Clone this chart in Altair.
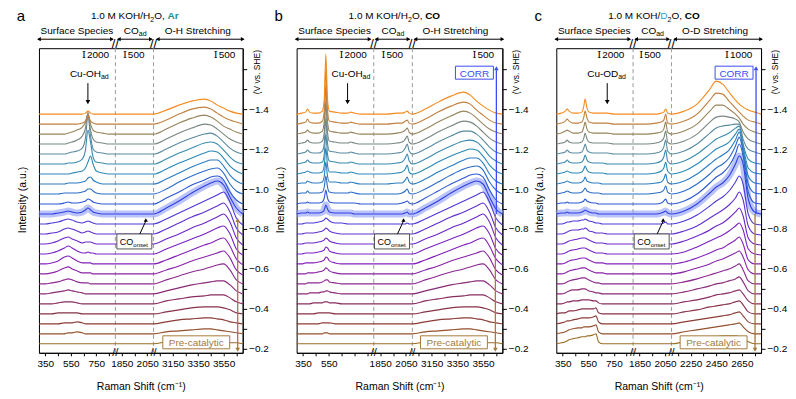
import altair as alt
import pandas as pd

FONT = "Liberation Sans"

# ---------------- data ----------------
VOLTAGES = [-0.20, -0.25, -0.30, -0.35, -0.40, -0.45, -0.50, -0.55, -0.60, -0.65, -0.70, -0.75,
            -0.80, -0.85, -0.90, -0.95, -1.00, -1.05, -1.10, -1.15, -1.20, -1.25, -1.30, -1.35]
COLORS = ["#9c6c24", "#95502c", "#8c3c36", "#873248", "#882c60", "#8a2a78", "#8c2890", "#8a22a8",
          "#8420b8", "#7a22c2", "#6e26c8", "#6030ce", "#4c38d6", "#2f3fe4", "#2a58d2", "#2a6cc8",
          "#2a7cc0", "#2a88b8", "#3a8ab0", "#5a8aa0", "#78887e", "#98845c", "#c28040", "#f58a1e"]
HIGHLIGHT_K = 13

# Panel a (Ar, H2O)
A_S1 = [300, 350, 400, 450, 500, 530, 560, 600, 640, 665, 685, 705, 725, 750, 800, 850, 900]
A_S2 = [1800, 1950, 2100]
A_S3 = [3000, 3100, 3200, 3300, 3400, 3450, 3500, 3550, 3600, 3650, 3700]
A_H1 = [
    [0, 0, 0, 0, 0, 0, 0, 0, 0, 0, 0, 0, 0, 0, 0, 0, 0],
    [0, 0, 0, 0, 0, 1, 1, 2, 1, 0, 0, 0, 0, 0, 0, 0, 0],
    [0, 0, 0, 0, 1, 1, 1, 2, 1, 0, 0, 0, 0, 0, 0, 0, 0],
    [0, 0, 0, 1, 1, 1, 1, 1, 0, 0, 0, 0, 0, 0, 0, 0, 0],
    [0, 0, 0, 1, 2, 2, 2, 1, 0, 0, 0, 0, 0, 0, 0, 0, 0],
    [0, 0, 1, 2, 3, 4, 3, 2, 1, 0, 0, 0, 0, 0, 0, 0, 0],
    [0, 0, 1, 2, 4, 5, 4, 2, 1, 1, 1, 0, 0, 0, 0, 0, 0],
    [0, 0, 1, 3, 6, 7, 5, 3, 1, 1, 1, 1, 0, 0, 0, 0, 0],
    [0, 0, 1, 3, 7, 8, 6, 3, 1, 1, 1, 1, 0, 0, 0, 0, 0],
    [0, 0, 1, 3, 6, 8, 6, 3, 1, 1, 2, 1, 1, 0, 0, 0, 0],
    [0, 0, 1, 3, 6, 7, 5, 3, 1, 2, 2, 2, 1, 0, 0, 0, 0],
    [0, 0, 1, 2, 5, 6, 5, 3, 1, 2, 3, 2, 1, 0, 0, 0, 0],
    [0, 0, 1, 2, 4, 5, 4, 2, 1, 2, 3, 2, 1, 0, 0, 0, 0],
    [0, 0, 0, 1, 2, 3, 2, 1, 2, 4, 6, 4, 2, 1, 0, 0, 0],
    [0, 0, 0, 0, 1, 2, 1, 1, 2, 3, 5, 4, 2, 1, 0, 0, 0],
    [0, 0, 0, 0, 1, 1, 1, 1, 2, 3, 5, 5, 3, 1, 0, 0, 0],
    [0, 0, 0, 0, 0, 1, 1, 1, 2, 3, 6, 7, 4, 2, 0, 0, 0],
    [0, 0, 0, 0, 0, 0, 1, 2, 3, 6, 12, 18, 10, 3, 1, 0, 0],
    [0, 0, 0, 0, 0, 1, 1, 2, 5, 14, 34, 22, 7, 2, 1, 0, 0],
    [0, 0, 0, 0, 0, 1, 2, 3, 6, 16, 38, 18, 5, 2, 1, 0, 0],
    [0, 0, 0, 0, 0, 1, 2, 4, 8, 16, 32, 14, 5, 2, 1, 0, 0],
    [0, 0, 0, 0, 0, 1, 2, 4, 7, 12, 20, 10, 4, 2, 1, 0, 0],
    [0, 0, 0, 0, 0, 0, 0, 0, 1, 3, 8, 3, 1, 0, 0, 0, 0],
    [0, 0, 0, 0, 0, 0, 0, 0, 0, 1, 3, 1, 0, 0, 0, 0, 0],
]
A_H2 = [[0, 0, 0] for _ in range(24)]
A_H3 = [
    [0, 2, 3, 4, 4, 4, 3, 2, 1, 1, 0],
    [0, 2, 3, 4, 5, 5, 4, 3, 2, 1, 0],
    [0, 2, 4, 5, 6, 6, 5, 4, 2, 1, 0],
    [0, 2, 4, 6, 7, 7, 7, 6, 4, 1, 0],
    [0, 3, 5, 7, 8, 9, 9, 9, 6, 2, 0],
    [0, 3, 6, 9, 11, 12, 13, 13, 9, 3, 0],
    [0, 4, 8, 12, 15, 17, 19, 20, 14, 4, 0],
    [0, 4, 8, 13, 17, 19, 21, 23, 16, 4, -1],
    [0, 4, 9, 14, 19, 21, 24, 26, 18, 5, -1],
    [0, 5, 10, 15, 20, 23, 26, 28, 20, 5, -1],
    [0, 5, 10, 16, 21, 24, 27, 30, 22, 6, -1],
    [0, 5, 11, 17, 22, 25, 28, 31, 22, 6, -1],
    [0, 5, 11, 17, 23, 26, 29, 32, 22, 6, -1],
    [0, 6, 13, 21, 28, 31, 33, 29, 17, 6, 0],
    [0, 6, 12, 19, 24, 27, 28, 24, 12, 4, 0],
    [0, 5, 12, 18, 23, 25, 26, 21, 10, 3, 0],
    [0, 5, 11, 17, 22, 24, 24, 18, 9, 3, 0],
    [0, 5, 11, 16, 21, 23, 22, 16, 8, 3, 0],
    [0, 5, 11, 16, 21, 22, 20, 14, 7, 2, 0],
    [0, 5, 11, 16, 20, 21, 18, 12, 6, 2, 0],
    [0, 5, 11, 16, 20, 19, 15, 10, 5, 2, 0],
    [0, 5, 11, 16, 19, 17, 13, 8, 5, 2, 0],
    [0, 4, 10, 15, 17, 15, 11, 7, 4, 2, 0],
    [0, 4, 9, 13, 15, 13, 9, 6, 3, 1, 0],
]

# Panel b (CO, H2O)
B_S1 = [300, 340, 370, 385, 400, 430, 470, 500, 515, 527, 540, 555, 600, 650, 700, 720, 750, 800, 850, 900]
B_S2 = [1800, 1900, 1980, 2020, 2045, 2060, 2075, 2100]
B_S3 = [3000, 3100, 3200, 3300, 3400, 3450, 3500, 3550, 3600, 3650, 3700]
B_H1 = [
    [0, 0, 0, 0, 0, 0, 0, 0, 0, 0, 0, 0, 0, 0, 0, 0, 0, 0, 0, 0],
    [0, 0, 0, 0, 0, 0, 0, 0, 1, 1, 1, 0, 0, 0, 0, 0, 0, 0, 0, 0],
    [0, 0, 0, 0, 0, 0, 0, 1, 1, 1, 1, 1, 0, 0, 0, 0, 0, 0, 0, 0],
    [0, 0, 0, 0, 0, 0, 1, 1, 1, 1, 1, 1, 0, 0, 0, 0, 0, 0, 0, 0],
    [0, 0, 0, 0, 0, 1, 1, 1, 2, 2, 2, 1, 1, 0, 0, 0, 0, 0, 0, 0],
    [0, 0, 0, 0, 1, 1, 1, 2, 2, 3, 3, 2, 1, 0, 0, 0, 0, 0, 0, 0],
    [0, 0, 0, 1, 1, 1, 1, 2, 3, 4, 4, 2, 1, 0, 0, 0, 0, 0, 0, 0],
    [0, 0, 0, 1, 1, 1, 2, 3, 4, 6, 5, 3, 1, 0, 0, 0, 0, 0, 0, 0],
    [0, 0, 1, 1, 1, 1, 2, 3, 4, 7, 6, 3, 1, 0, 0, 0, 0, 0, 0, 0],
    [0, 0, 1, 1, 1, 1, 2, 3, 4, 7, 6, 3, 1, 0, 0, 0, 0, 0, 0, 0],
    [0, 0, 1, 1, 1, 1, 2, 3, 4, 6, 5, 3, 1, 0, 0, 0, 0, 0, 0, 0],
    [0, 0, 1, 1, 1, 1, 2, 3, 4, 6, 5, 3, 1, 0, 0, 0, 0, 0, 0, 0],
    [0, 0, 1, 1, 1, 1, 2, 3, 4, 6, 5, 3, 1, 1, 0, 0, 0, 0, 0, 0],
    [0, 1, 1, 2, 1, 1, 1, 2, 4, 9, 5, 2, 1, 1, 1, 1, 0, 0, 0, 0],
    [0, 1, 1, 2, 1, 1, 1, 2, 6, 14, 6, 2, 1, 1, 1, 1, 1, 0, 0, 0],
    [0, 1, 1, 3, 1, 1, 1, 2, 7, 18, 7, 2, 1, 1, 1, 2, 1, 0, 0, 0],
    [0, 1, 1, 3, 2, 1, 1, 2, 8, 22, 8, 2, 2, 1, 1, 2, 1, 0, 0, 0],
    [0, 1, 2, 3, 2, 1, 1, 2, 9, 26, 9, 2, 2, 1, 1, 2, 1, 0, 0, 0],
    [0, 1, 2, 4, 2, 1, 1, 2, 10, 30, 10, 3, 2, 1, 1, 2, 1, 0, 0, 0],
    [0, 1, 2, 4, 2, 1, 1, 3, 11, 36, 11, 3, 2, 1, 1, 2, 1, 0, 0, 0],
    [0, 1, 2, 4, 2, 1, 1, 3, 12, 42, 12, 3, 2, 1, 1, 2, 1, 0, 0, 0],
    [0, 1, 2, 4, 2, 1, 1, 3, 13, 48, 13, 3, 2, 1, 1, 2, 1, 0, 0, 0],
    [0, 1, 2, 5, 2, 1, 1, 3, 14, 55, 14, 3, 2, 1, 1, 2, 1, 0, 0, 0],
    [0, 1, 2, 5, 2, 1, 1, 3, 15, 60, 15, 3, 2, 1, 1, 2, 1, 0, 0, 0],
]
B_H2 = [
    [0, 0, 0, 0, 0, 0, 0, 0], [0, 0, 0, 0, 0, 0, 0, 0], [0, 0, 0, 0, 0, 0, 0, 0],
    [0, 0, 0, 0, 0, 0, 0, 0], [0, 0, 0, 0, 0, 0, 0, 0], [0, 0, 0, 0, 0, 0, 0, 0],
    [0, 0, 0, 0, 0, 0, 0, 0], [0, 0, 0, 0, 0, 0, 0, 0], [0, 0, 0, 0, 0, 0, 0, 0],
    [0, 0, 0, 0, 0, 0, 0, 0], [0, 0, 0, 0, 0, 0, 0, 0], [0, 0, 0, 0, 0, 0, 0, 0],
    [0, 0, 0, 0, 0, 1, 0, 0],
    [0, 0, 0, 0, 1, 2, 0, 0],
    [0, 0, 0, 1, 2, 3, 1, 0],
    [0, 0, 0, 1, 3, 5, 1, 0],
    [0, 0, 1, 1, 4, 7, 2, 0],
    [0, 0, 1, 2, 5, 9, 2, 0],
    [0, 0, 1, 2, 6, 10, 3, 0],
    [0, 0, 1, 2, 6, 10, 3, 0],
    [0, 0, 1, 2, 5, 8, 2, 0],
    [0, 0, 1, 2, 4, 6, 2, 0],
    [0, 0, 1, 1, 3, 4, 1, 0],
    [0, 0, 1, 1, 2, 3, 1, 0],
]
B_H3 = [
    [0, 2, 3, 4, 4, 4, 3, 2, 1, 1, 0],
    [0, 2, 3, 4, 5, 5, 4, 3, 2, 1, 0],
    [0, 2, 4, 5, 6, 6, 5, 4, 2, 1, 0],
    [0, 2, 4, 6, 7, 7, 7, 6, 4, 1, 0],
    [0, 3, 5, 7, 8, 9, 9, 9, 6, 2, 0],
    [0, 3, 6, 9, 11, 12, 13, 13, 9, 3, 0],
    [0, 4, 8, 12, 15, 17, 19, 20, 14, 4, 0],
    [0, 4, 8, 13, 17, 19, 21, 23, 16, 4, -1],
    [0, 4, 9, 14, 19, 21, 24, 26, 18, 5, -1],
    [0, 5, 10, 15, 20, 23, 26, 28, 20, 5, -1],
    [0, 5, 10, 16, 21, 24, 27, 30, 22, 6, -1],
    [0, 5, 11, 17, 22, 25, 28, 31, 22, 6, -1],
    [0, 5, 11, 17, 23, 26, 29, 32, 22, 6, -1],
    [0, 6, 13, 21, 28, 31, 33, 30, 17, 5, 0],
    [0, 6, 13, 20, 26, 29, 30, 27, 14, 4, 0],
    [0, 5, 12, 19, 25, 27, 28, 24, 12, 4, 0],
    [0, 5, 12, 18, 24, 26, 26, 21, 10, 3, 0],
    [0, 5, 12, 18, 23, 25, 24, 18, 9, 3, 0],
    [0, 5, 12, 18, 23, 24, 22, 16, 8, 3, 0],
    [0, 5, 12, 18, 23, 23, 20, 14, 7, 2, 0],
    [0, 5, 12, 18, 23, 22, 18, 12, 6, 2, 0],
    [0, 5, 12, 18, 23, 21, 16, 10, 5, 2, 0],
    [0, 5, 12, 18, 22, 20, 14, 9, 4, 1, 0],
    [0, 5, 12, 18, 22, 19, 13, 8, 4, 1, 0],
]

# Panel c (CO, D2O)
C_S1 = [300, 340, 370, 385, 400, 430, 470, 500, 515, 525, 540, 555, 590, 610, 630, 660, 700, 750, 800, 850, 900]
C_S2 = [1800, 1900, 1980, 2020, 2040, 2055, 2070, 2100]
C_S3 = [2100, 2200, 2300, 2400, 2450, 2500, 2550, 2600, 2630, 2660, 2700, 2750, 2800]
C_H1 = [
    [0, 1, 2, 3, 4, 5, 6, 7, 7, 7, 8, 8, 9, 10, 2, 0, 0, 0, 0, 0, 0],
    [0, 1, 2, 3, 4, 5, 6, 6, 7, 7, 7, 7, 8, 9, 2, 0, 0, 0, 0, 0, 0],
    [0, 1, 2, 3, 3, 4, 5, 6, 6, 6, 6, 6, 7, 8, 2, 0, 0, 0, 0, 0, 0],
    [0, 1, 1, 2, 3, 3, 4, 5, 5, 5, 5, 5, 5, 6, 1, 0, 0, 0, 0, 0, 0],
    [0, 0, 1, 2, 2, 3, 3, 4, 4, 4, 4, 4, 3, 3, 1, 0, 0, 0, 0, 0, 0],
    [0, 0, 1, 2, 3, 4, 4, 5, 5, 5, 4, 3, 2, 1, 1, 0, 0, 0, 0, 0, 0],
    [0, 0, 1, 2, 3, 4, 5, 6, 6, 6, 5, 4, 2, 1, 1, 0, 0, 0, 0, 0, 0],
    [0, 0, 1, 2, 3, 4, 5, 6, 6, 6, 5, 4, 2, 1, 1, 1, 0, 0, 0, 0, 0],
    [0, 0, 1, 2, 3, 4, 5, 6, 6, 6, 5, 4, 2, 1, 1, 1, 0, 0, 0, 0, 0],
    [0, 0, 1, 2, 3, 4, 5, 6, 6, 6, 5, 4, 2, 1, 1, 1, 0, 0, 0, 0, 0],
    [0, 0, 1, 2, 3, 4, 5, 6, 6, 6, 5, 4, 2, 1, 1, 1, 0, 0, 0, 0, 0],
    [0, 0, 1, 2, 3, 4, 4, 5, 5, 6, 5, 3, 2, 1, 1, 1, 0, 0, 0, 0, 0],
    [0, 0, 1, 2, 2, 3, 3, 4, 4, 5, 4, 3, 2, 1, 1, 0, 0, 0, 0, 0, 0],
    [0, 1, 1, 2, 1, 1, 1, 2, 3, 4, 3, 2, 1, 1, 0, 0, 0, 0, 0, 0, 0],
    [0, 1, 1, 2, 1, 1, 1, 2, 3, 5, 3, 2, 1, 1, 0, 0, 0, 0, 0, 0, 0],
    [0, 1, 2, 3, 2, 1, 1, 2, 4, 6, 3, 2, 1, 1, 1, 0, 0, 0, 0, 0, 0],
    [0, 1, 2, 3, 2, 1, 1, 2, 4, 7, 3, 2, 1, 1, 1, 0, 0, 0, 0, 0, 0],
    [0, 1, 2, 3, 2, 1, 1, 2, 5, 8, 4, 2, 1, 1, 1, 1, 0, 0, 0, 0, 0],
    [0, 1, 2, 4, 2, 1, 1, 2, 5, 9, 4, 2, 1, 1, 1, 1, 0, 0, 0, 0, 0],
    [0, 1, 2, 4, 2, 1, 1, 2, 6, 10, 4, 2, 1, 1, 1, 1, 1, 0, 0, 0, 0],
    [0, 1, 2, 4, 2, 1, 1, 2, 6, 11, 5, 2, 1, 1, 1, 1, 1, 0, 0, 0, 0],
    [0, 1, 3, 4, 3, 1, 1, 2, 7, 12, 5, 2, 1, 1, 1, 1, 1, 0, 0, 0, 0],
    [0, 1, 3, 5, 3, 1, 1, 2, 7, 13, 6, 2, 1, 1, 1, 1, 1, 0, 0, 0, 0],
    [0, 1, 3, 5, 3, 1, 1, 2, 8, 15, 6, 2, 1, 1, 1, 1, 1, 0, 0, 0, 0],
]
C_H2 = [
    [0, 0, 0, 0, 0, 0, 0, 0], [0, 0, 0, 0, 0, 0, 0, 0], [0, 0, 0, 0, 0, 0, 0, 0],
    [0, 0, 0, 0, 0, 0, 0, 0], [0, 0, 0, 0, 0, 0, 0, 0], [0, 0, 0, 0, 0, 0, 0, 0],
    [0, 0, 0, 0, 0, 0, 0, 0], [0, 0, 0, 0, 0, 0, 0, 0], [0, 0, 0, 0, 0, 0, 0, 0],
    [0, 0, 0, 0, 0, 0, 0, 0], [0, 0, 0, 0, 0, 0, 0, 0], [0, 0, 0, 0, 0, 0, 0, 0],
    [0, 0, 0, 0, 1, 2, 0, 0],
    [0, 0, 0, 1, 2, 3, 1, 0],
    [0, 0, 0, 1, 3, 5, 1, 0],
    [0, 0, 1, 2, 4, 8, 2, 0],
    [0, 0, 1, 2, 5, 10, 2, 0],
    [0, 0, 1, 3, 6, 12, 3, 0],
    [0, 0, 1, 3, 7, 14, 3, 0],
    [0, 0, 1, 3, 7, 14, 3, 0],
    [0, 0, 1, 3, 6, 13, 2, 0],
    [0, 0, 1, 2, 5, 12, 2, 0],
    [0, 0, 1, 2, 4, 10, 1, 0],
    [0, 0, 0, 1, 2, 5, 1, 0],
]
C_H3 = [
    [0, 2, 4, 6, 7, 8, 8, 8, 7, 5, 2, 0, 0],
    [0, 2, 4, 6, 7, 8, 9, 10, 11, 7, 2, 0, 0],
    [0, 2, 4, 6, 7, 8, 9, 11, 12, 8, 2, 0, 0],
    [0, 2, 4, 7, 8, 9, 10, 12, 13, 9, 2, 0, 0],
    [0, 2, 4, 7, 9, 10, 11, 13, 14, 10, 3, 0, 0],
    [0, 2, 5, 8, 10, 11, 13, 15, 17, 12, 3, 0, 0],
    [0, 2, 5, 9, 11, 13, 15, 18, 20, 14, 3, 0, 0],
    [0, 2, 6, 10, 13, 15, 18, 21, 23, 17, 4, 0, 0],
    [0, 2, 6, 11, 14, 16, 20, 24, 27, 20, 4, 0, 0],
    [0, 2, 7, 13, 16, 19, 23, 28, 31, 24, 5, 0, -1],
    [0, 3, 8, 14, 18, 21, 26, 32, 36, 28, 6, 0, -1],
    [0, 3, 8, 16, 20, 24, 29, 36, 42, 34, 8, 0, -1],
    [0, 3, 9, 18, 23, 27, 33, 42, 48, 40, 10, 0, -1],
    [0, 3, 10, 21, 27, 31, 38, 50, 58, 50, 15, 2, 0],
    [0, 3, 10, 21, 27, 31, 38, 50, 60, 48, 12, 1, 0],
    [0, 3, 10, 20, 26, 30, 36, 48, 57, 42, 10, 1, 0],
    [0, 3, 10, 20, 25, 29, 34, 44, 52, 35, 8, 1, 0],
    [0, 3, 10, 20, 25, 28, 32, 40, 45, 28, 6, 1, 0],
    [0, 3, 10, 20, 25, 28, 31, 36, 38, 20, 5, 1, 0],
    [0, 3, 10, 21, 26, 28, 29, 30, 30, 15, 5, 2, 0],
    [0, 3, 10, 22, 27, 28, 27, 25, 22, 12, 5, 2, 0],
    [0, 3, 10, 23, 29, 29, 25, 20, 16, 10, 5, 2, 0],
    [0, 3, 10, 24, 31, 30, 23, 16, 12, 8, 4, 2, 0],
    [0, 3, 10, 25, 33, 30, 22, 14, 10, 7, 4, 2, 0],
]

TICK_X = [50, 150, 250, 350, 450, 550, 650, 750, 850, 950, 1050, 1150, 1250, 1350, 1450, 1550]
SEG3_START = {"a": 3000, "b": 3000, "c": 2100}
SKIP_LABEL = {"a": [], "b": [450], "c": []}
TICK_Y = [-1.6, -1.5, -1.4, -1.3, -1.2, -1.1, -1.0, -0.9, -0.8, -0.7, -0.6, -0.5, -0.4, -0.3, -0.2]

W, H = 204, 305
BROWN = "#a57a3a"
BLUE = "#3b4cf5"
ONE = pd.DataFrame({"o": [0]})


def build(segs):
    recs = []
    for seg, shifts, rows in segs:
        for k, row in enumerate(rows):
            for s, h in zip(shifts, row):
                recs.append({"k": k, "V": VOLTAGES[k], "seg": seg, "shift": s, "h": h})
    return pd.DataFrame(recs)


def text(x, y, s, size=10, color="black", weight="normal", align="left",
         baseline="alphabetic", font=FONT, angle=0):
    return alt.Chart(ONE).mark_text(
        text=s, fontSize=size, color=color, fontWeight=weight, align=align,
        baseline=baseline, font=font, angle=angle
    ).encode(x=alt.value(x), y=alt.value(y))


def rule(x1, y1, x2, y2, color="black", width=1.0, dash=None):
    kw = dict(color=color, strokeWidth=width)
    if dash:
        kw["strokeDash"] = dash
    return alt.Chart(ONE).mark_rule(**kw).encode(
        x=alt.value(x1), y=alt.value(y1), x2=alt.value(x2), y2=alt.value(y2))


def head(x, y, shape, color="black", size=20):
    return alt.Chart(ONE).mark_point(shape=shape, filled=True, size=size, color=color,
                                     opacity=1, strokeWidth=0).encode(
        x=alt.value(x), y=alt.value(y))


def box(x1, y1, x2, y2, stroke):
    return alt.Chart(ONE).mark_rect(fill="white", stroke=stroke, strokeWidth=1).encode(
        x=alt.value(x1), y=alt.value(y1), x2=alt.value(x2), y2=alt.value(y2))


def panel(letter, df, title_parts, region3, bars, cu, corr, width=W):
    s3start = SEG3_START[letter]
    skip = SKIP_LABEL[letter]
    skip_expr = "".join([f" && datum.value != {v}" for v in skip])
    lab = (f"((datum.value - 50) % 200 == 0{skip_expr}) ? "
           f"(datum.value < 600 ? datum.value + 300 : (datum.value < 900 ? datum.value + 1200 : datum.value + {s3start - 900})) : ''")
    calc = dict(
        xd=f"datum.seg == 1 ? datum.shift - 300 : (datum.seg == 2 ? datum.shift - 1200 : datum.shift - {s3start} + 900)",
        yv="datum.V - 0.025 - datum.h * 0.005",
    )
    xenc = alt.X("xd:Q", scale=alt.Scale(domain=[0, 1600], nice=False, zero=False),
                 axis=alt.Axis(values=TICK_X, labelExpr=lab,
                               title="Raman Shift (cm\u207b\u00b9)", tickSize=3, labelPadding=3,
                               titlePadding=13, labelFontSize=10, titleFontSize=10.5,
                               titleFontWeight="normal", domainColor="black", tickColor="black",
                               labelColor="black", labelFont=FONT, titleFont=FONT, grid=False,
                               labelOverlap=False, labelFlush=False))
    yenc = alt.Y("yv:Q", scale=alt.Scale(domain=[-0.18, -1.705], nice=False, zero=False),
                 axis=alt.Axis(orient="right", values=TICK_Y,
                               labelExpr="(round(datum.value*10) % 2 == 0 && datum.value > -1.5) ? format(datum.value, '.1f') : ''",
                               title=None, tickSize=4, labelPadding=2, labelFontSize=10,
                               domainColor="black", tickColor="black", labelColor="black",
                               labelFont=FONT, grid=False, labelOverlap=False, labelFlush=False))
    base = alt.Chart(df).transform_calculate(**calc)
    halo = base.transform_filter(f"datum.k == {HIGHLIGHT_K}").mark_line(
        color="#8c9cf6", strokeWidth=7, opacity=0.6, interpolate="monotone").encode(x=xenc, y=yenc)
    lines = base.mark_line(strokeWidth=1.1, interpolate="monotone").encode(
        x=xenc, y=yenc,
        color=alt.Color("k:O", scale=alt.Scale(domain=list(range(24)), range=COLORS), legend=None),
    )
    sx = width / 1600.0
    layers = [rule(600 * sx, 0, 600 * sx, H, color="#9a9a9a", dash=[4, 3]),
              rule(900 * sx, 0, 900 * sx, H, color="#9a9a9a", dash=[4, 3]),
              halo, lines]
    # panel letter and rich title
    layers.append(text(-18, -27, letter, size=15, align="center"))
    x0 = 52
    for (s, dx, size, weight, color, dy) in title_parts:
        layers.append(text(x0 + dx, -29 + dy, s, size=size, weight=weight, color=color))
    # region arrows
    for (a, b) in [(-1, 74), (79, 113), (118, width + 1)]:
        layers.append(rule(a, -9, b, -9))
        layers.append(head(a + 1, -9, "triangle-left", size=18))
        layers.append(head(b - 1, -9, "triangle-right", size=18))
    for bx in [600 * sx, 900 * sx]:
        layers.append(text(bx, -4, "//", size=13, align="center", baseline="middle"))
        layers.append(text(bx, H, "//", size=11, align="center", baseline="middle"))
    layers.append(text(38, -14, "Surface Species", align="center"))
    layers.append(text(85, -14, "CO"))
    layers.append(text(100, -12, "ad", size=7))
    layers.append(text(159, -14, region3, align="center"))
    # scale bars
    for (bx, num) in bars:
        layers.append(text(bx, 10, "I", font="DejaVu Serif", size=10, align="center"))
        layers.append(text(bx + 3, 10, num))
    # Cu-OH annotation
    cx, tx = cu[1], cu[2]
    layers.append(text(tx, 29, cu[0]))
    layers.append(text(tx + 31, 31, "ad", size=7))
    layers.append(rule(cx, 35, cx, 53))
    layers.append(head(cx, 54, "triangle-down", size=22))
    # CO onset
    layers.append(box(78, 186, 113, 201, "#555555"))
    layers.append(text(81, 197, "CO", size=9))
    layers.append(text(94.5, 199, "onset", size=6))
    layers.append(rule(101, 186, 107, 173))
    layers.append(head(107, 172, "triangle-up", size=18))
    # pre-catalytic
    layers.append(box(124, 288, 191, 301, BROWN))
    layers.append(text(157.5, 298.5, "Pre-catalytic", color=BROWN, align="center"))
    if corr:
        layers.append(rule(200, 166, 200, 22, color=BLUE, width=1.3))
        layers.append(head(200, 20, "triangle-up", color=BLUE, size=22))
        layers.append(rule(199, 166, 199, 301, color=BROWN, width=1.3))
        layers.append(head(199, 302, "triangle-down", color=BROWN, size=22))
        layers.append(box(159, 18, 197, 31, BLUE))
        layers.append(text(178, 28.5, "CORR", color=BLUE, align="center"))
    else:
        layers.append(rule(199, 174, 199, 301, color=BROWN, width=1.3))
        layers.append(head(199, 172, "triangle-up", color=BROWN, size=22))
        layers.append(head(199, 302, "triangle-down", color=BROWN, size=22))
    layers.append(text(-16, 152, "Intensity (a.u.)", size=10.5, align="center", baseline="middle", angle=270))
    layers.append(text(width + 14, 24, "(V vs. SHE)", size=8.5, align="center", baseline="middle", angle=270))
    return alt.layer(*layers).properties(width=width, height=H)


dfa = build([(1, A_S1, A_H1), (2, A_S2, A_H2), (3, A_S3, A_H3)])
dfb = build([(1, B_S1, B_H1), (2, B_S2, B_H2), (3, B_S3, B_H3)])
dfc = build([(1, C_S1, C_H1), (2, C_S2, C_H2), (3, C_S3, C_H3)])

TITLE_A = [("1.0 M KOH/H", 0, 10, "normal", "black", 0), ("2", 59.5, 7, "normal", "black", 2.5),
           ("O, ", 63.4, 10, "normal", "black", 0), ("Ar", 76.7, 10, "bold", "#16908e", 0)]
TITLE_B = [("1.0 M KOH/H", 0, 10, "normal", "black", 0), ("2", 59.5, 7, "normal", "black", 2.5),
           ("O, ", 63.4, 10, "normal", "black", 0), ("CO", 76.7, 10, "bold", "black", 0)]
TITLE_C = [("1.0 M KOH/", 0, 10, "normal", "black", 0), ("D", 52.2, 10, "normal", "#1aa3ea", 0),
           ("2", 59.4, 7, "normal", "black", 2.5), ("O, ", 63.3, 10, "normal", "black", 0),
           ("CO", 76.6, 10, "bold", "black", 0)]

pa = panel("a", dfa, TITLE_A, "O-H Stretching",
           [(45, "2000"), (86, "500"), (177, "500")], ("Cu-OH", 49, 31), False)
pb = panel("b", dfb, TITLE_B, "O-H Stretching",
           [(45, "2000"), (87, "500"), (178, "500")], ("Cu-OH", 51, 35), True, width=206)
pc = panel("c", dfc, TITLE_C, "O-D Stretching",
           [(43, "2000"), (85, "500"), (171, "1000")], ("Cu-OD", 51, 31), True, width=205)

chart = alt.hconcat(pa, pb, pc, spacing=4).properties(
    padding={"left": 8, "top": 0, "right": 0, "bottom": 0}
).configure_view(stroke="black", strokeWidth=1).configure_text(font=FONT)

chart.save("out.html", embed_options={"renderer": "svg", "actions": False})
